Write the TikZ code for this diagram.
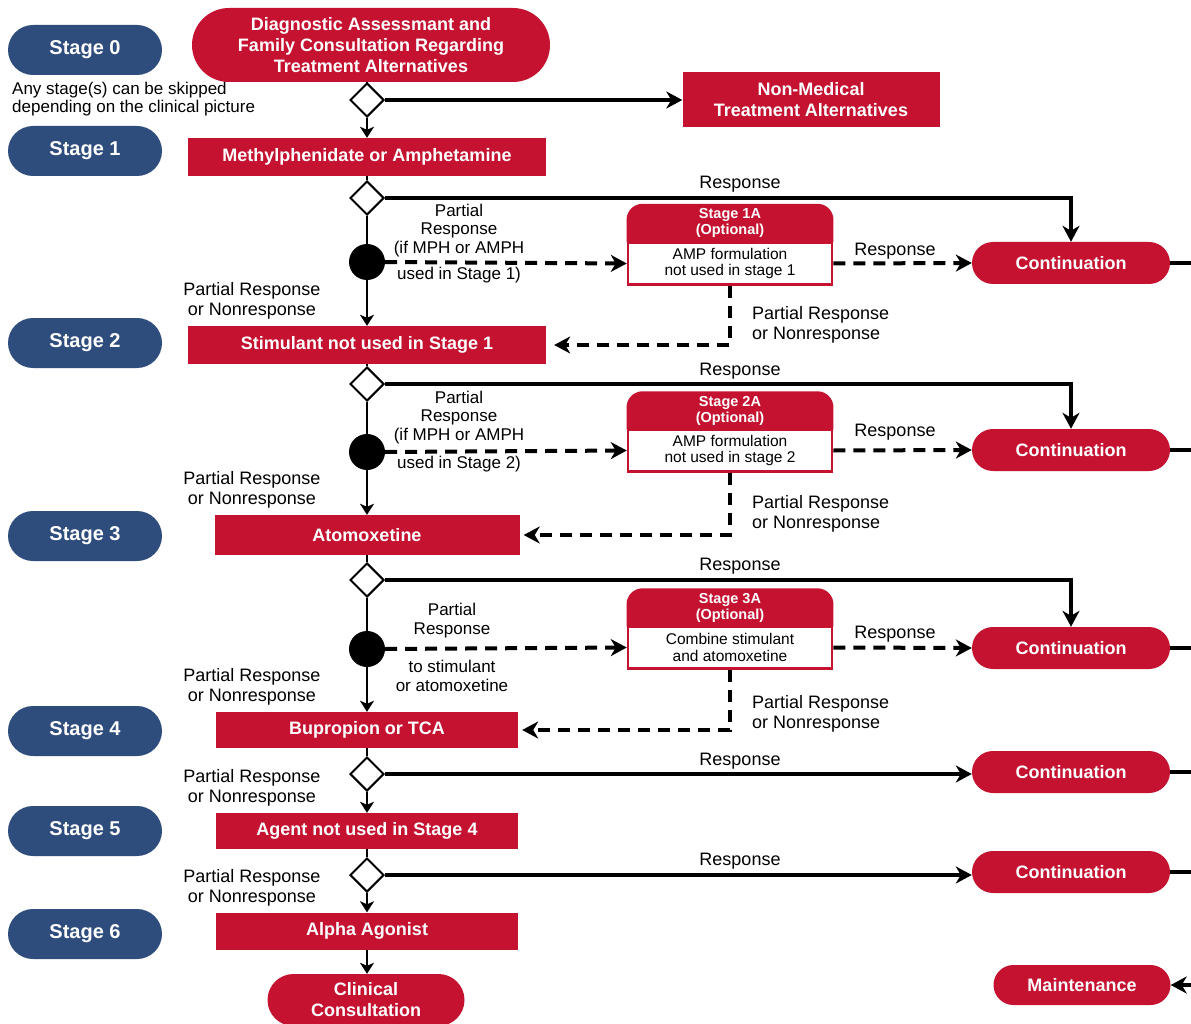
\documentclass[tikz,border=0pt]{standalone}
\usepackage{fontspec}
\setmainfont{Liberation Sans}
\usetikzlibrary{arrows.meta,shapes.geometric,backgrounds}
\definecolor{cred}{RGB}{196,18,48}
\definecolor{cblue}{RGB}{46,76,124}
\begin{document}
\begin{tikzpicture}[x=1pt,y=-1pt,
 stagepill/.style={fill=cblue, text=white, rounded corners=25pt, minimum width=154pt, minimum height=50pt, font=\fontsize{20}{22}\selectfont\bfseries, inner sep=0pt},
 redbox/.style={fill=cred, text=white, minimum height=38pt, font=\fontsize{18}{21}\selectfont\bfseries, inner sep=0pt, align=center},
 pill/.style={fill=cred, text=white, font=\fontsize{18}{21}\selectfont\bfseries, inner sep=0pt, align=center},
 dia/.style={diamond, draw=black, fill=white, line width=2pt, minimum width=34pt, minimum height=34pt, inner sep=0pt},
 dot/.style={circle, fill=black, minimum size=36pt, inner sep=0pt},
 lbl/.style={font=\fontsize{18}{20}\selectfont, align=center, inner sep=0pt},
 trunk/.style={line width=2.5pt},
 resp/.style={line width=3.5pt},
 dsh/.style={line width=4pt, dash pattern=on 12pt off 8pt},
 bigtip/.style={-{Stealth[length=16pt,width=17pt,inset=5pt]}},
 smalltip/.style={-{Stealth[length=11pt,width=14pt,inset=3pt]}},
 hdr/.style={text=white, minimum width=204pt, minimum height=38pt, inner sep=0pt, align=center, font=\fontsize{14.5}{16}\selectfont\bfseries},
 bdy/.style={draw=cred, fill=white, line width=2.5pt, minimum width=204pt, minimum height=42pt, inner sep=0pt, align=center, font=\fontsize{15.5}{16.5}\selectfont},
]
\useasboundingbox (0,0) rectangle (1191,1024);
\begin{scope}[on background layer]
\fill[white] (0,0) rectangle (1191,1024);
\end{scope}
\coordinate (edge) at (1196,0);

% stage pills
\node[stagepill] (st0) at (85,50) {Stage 0};
\node[stagepill] (st1) at (85,151) {Stage 1};
\node[stagepill] (st2) at (85,343) {Stage 2};
\node[stagepill] (st3) at (85,536) {Stage 3};
\node[stagepill] (st4) at (85,731) {Stage 4};
\node[stagepill] (st5) at (85,831) {Stage 5};
\node[stagepill] (st6) at (85,934) {Stage 6};

% top
\node[pill, rounded corners=37pt, minimum width=358pt, minimum height=74pt] (diag) at (371,45) {Diagnostic Assessmant and\\Family Consultation Regarding\\Treatment Alternatives};
\node[lbl, align=left, font=\fontsize{17}{18.5}\selectfont, anchor=west] (skip) at (12,99) {Any stage(s) can be skipped\\depending on the clinical picture};
\node[dia] (d0) at (367,100) {};
\node[redbox, minimum width=257pt, minimum height=55pt] (nonmed) at (811,100) {Non-Medical\\Treatment Alternatives};

% main column
\node[redbox, minimum width=358pt] (s1) at (367,157) {Methylphenidate or Amphetamine};
\node[dia] (d1) at (367,198) {};
\node[dot] (p1) at (367,262) {};
\node[redbox, minimum width=358pt] (s2) at (367,345) {Stimulant not used in Stage 1};
\node[dia] (d2) at (367,384) {};
\node[dot] (p2) at (367,452) {};
\node[redbox, minimum width=305pt, minimum height=40pt] (s3) at (367,535) {Atomoxetine};
\node[dia] (d3) at (367,580) {};
\node[dot] (p3) at (367,649) {};
\node[redbox, minimum width=302pt, minimum height=36pt] (s4) at (367,730) {Bupropion or TCA};
\node[dia] (d4) at (367,774) {};
\node[redbox, minimum width=302pt, minimum height=36pt] (s5) at (367,831) {Agent not used in Stage 4};
\node[dia] (d5) at (367,875) {};
\node[redbox, minimum width=302pt, minimum height=37pt] (s6) at (367,931) {Alpha Agonist};
\node[pill, rounded corners=26pt, minimum width=197pt, minimum height=52pt] (cc) at (366,1000) {Clinical\\Consultation};

% optional boxes
\node[hdr] (h1) at (730,223) {Stage 1A\\(Optional)};
\node[bdy] (b1) at (730,263.5) {AMP formulation\\not used in stage 1};
\node[hdr] (h2) at (730,410.5) {Stage 2A\\(Optional)};
\node[bdy] (b2) at (730,450.5) {AMP formulation\\not used in stage 2};
\node[hdr] (h3) at (730,607.5) {Stage 3A\\(Optional)};
\node[bdy] (b3) at (730,647.5) {Combine stimulant\\and atomoxetine};
\begin{scope}[on background layer]
\foreach \h in {h1,h2,h3}{
  \fill[cred] ([xshift=-1.25pt]\h.south west) [rounded corners=16pt] -- ([xshift=-1.25pt]\h.north west) -- ([xshift=1.25pt]\h.north east) [sharp corners] -- ([xshift=1.25pt]\h.south east) -- cycle;
}
\end{scope}

% continuation
\node[pill, rounded corners=21pt, minimum width=198pt, minimum height=42pt] (c1) at (1071,263) {Continuation};
\node[pill, rounded corners=21pt, minimum width=198pt, minimum height=42pt] (c2) at (1071,450) {Continuation};
\node[pill, rounded corners=21pt, minimum width=198pt, minimum height=42pt] (c3) at (1071,648) {Continuation};
\node[pill, rounded corners=21pt, minimum width=198pt, minimum height=42pt] (c4) at (1071,772) {Continuation};
\node[pill, rounded corners=21pt, minimum width=198pt, minimum height=42pt] (c5) at (1071,872) {Continuation};
\node[pill, rounded corners=20pt, minimum width=177pt, minimum height=40pt] (maint) at (1082,985) {Maintenance};
\coordinate (medge) at (1196,985);

% labels
\node[lbl] (r1) at (740,184) {Response};
\node[lbl] (r2) at (740,371) {Response};
\node[lbl] (r3) at (740,566) {Response};
\node[lbl] (r4) at (740,761) {Response};
\node[lbl] (r5) at (740,861) {Response};
\node[lbl] (ra1) at (895,251) {Response};
\node[lbl] (ra2) at (895,432) {Response};
\node[lbl] (ra3) at (895,634) {Response};

\node[lbl, font=\fontsize{17}{18.5}\selectfont, anchor=south] (pa1) at (459,257) {Partial\\Response\\(if MPH or AMPH};
\node[lbl, font=\fontsize{17}{18.5}\selectfont] (pb1) at (459,275) {used in Stage 1)};
\node[lbl, font=\fontsize{17}{18.5}\selectfont, anchor=south] (pa2) at (459,444) {Partial\\Response\\(if MPH or AMPH};
\node[lbl, font=\fontsize{17}{18.5}\selectfont] (pb2) at (459,464) {used in Stage 2)};
\node[lbl, font=\fontsize{17}{19}\selectfont] (pa3) at (452,621) {Partial\\Response};
\node[lbl, font=\fontsize{17}{19}\selectfont] (pb3) at (452,676) {to stimulant\\or atomoxetine};

\node[lbl] (l2) at (252,301) {Partial Response\\or Nonresponse};
\node[lbl] (l3) at (252,490) {Partial Response\\or Nonresponse};
\node[lbl] (l4) at (252,687) {Partial Response\\or Nonresponse};
\node[lbl] (l5) at (252,788) {Partial Response\\or Nonresponse};
\node[lbl] (l6) at (252,888) {Partial Response\\or Nonresponse};
\node[lbl, align=left, anchor=west] (q1) at (752,325) {Partial Response\\or Nonresponse};
\node[lbl, align=left, anchor=west] (q2) at (752,514) {Partial Response\\or Nonresponse};
\node[lbl, align=left, anchor=west] (q3) at (752,714) {Partial Response\\or Nonresponse};

% connectors
\draw[trunk] (diag.south -| d0.north) -- (d0.north);
\draw[resp, bigtip] (d0.east) -- (nonmed.west);
\draw[trunk, smalltip] (d0.south) -- (s1.north);

\draw[trunk] (s1.south) -- (d1.north);
\draw[resp, bigtip] (d1.east) -| (c1.north);
\draw[trunk] (d1.south) -- (p1);
\draw[dsh, bigtip] (p1.east) -- (b1.west);
\draw[trunk, smalltip] (p1.south) -- (s2.north);
\draw[dsh, bigtip] (b1.east) -- (c1.west);
\draw[dsh, bigtip, shorten >=8pt] (b1.south) |- (s2.east);

\draw[trunk] (s2.south) -- (d2.north);
\draw[resp, bigtip] (d2.east) -| (c2.north);
\draw[trunk] (d2.south) -- (p2);
\draw[dsh, bigtip] (p2.east) -- (b2.west);
\draw[trunk, smalltip] (p2.south) -- (s3.north);
\draw[dsh, bigtip] (b2.east) -- (c2.west);
\draw[dsh, bigtip, shorten >=4pt] (b2.south) |- (s3.east);

\draw[trunk] (s3.south) -- (d3.north);
\draw[resp, bigtip] (d3.east) -| (c3.north);
\draw[trunk] (d3.south) -- (p3);
\draw[dsh, bigtip] (p3.east) -- (b3.west);
\draw[trunk, smalltip] (p3.south) -- (s4.north);
\draw[dsh, bigtip] (b3.east) -- (c3.west);
\draw[dsh, bigtip, shorten >=4pt] (b3.south) |- (s4.east);

\draw[trunk] (s4.south) -- (d4.north);
\draw[resp, bigtip] (d4.east) -- (d4.east -| c4.west);
\draw[trunk, smalltip] (d4.south) -- (s5.north);

\draw[trunk] (s5.south) -- (d5.north);
\draw[resp, bigtip] (d5.east) -- (d5.east -| c5.west);
\draw[trunk, smalltip] (d5.south) -- (s6.north);

\draw[trunk, smalltip] (s6.south) -- (s6.south |- cc.north);

\foreach \c in {c1,c2,c3,c4,c5}{
  \draw[resp] (\c.east) -- (\c.east -| edge);
}
\draw[resp, bigtip] (medge) -- (maint.east);
\end{tikzpicture}
\end{document}
